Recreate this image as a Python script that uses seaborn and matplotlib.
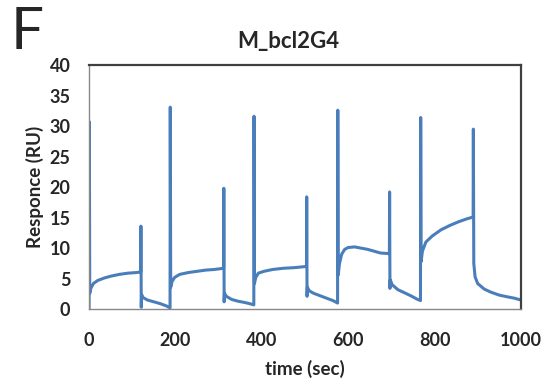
import numpy as np
import pandas as pd
import matplotlib.pyplot as plt
import seaborn as sns

# --- 数据 (读自图片) ---
time_sec = [0, 0.5, 1.5, 4, 10, 20, 35, 50, 70, 90, 110, 119.5,
            120, 120.8, 121.5, 125, 135, 150, 165, 180, 187.5,
            188, 189, 192, 198, 210, 230, 250, 270, 290, 311.5,
            312, 312.8, 313.5, 318, 330, 345, 360, 372, 381.5,
            382, 383, 386, 392, 405, 425, 450, 475, 503.5,
            504, 504.8, 505.5, 510, 520, 535, 550, 565, 575.5,
            576, 577, 580, 585, 592, 600, 615, 630, 645, 660, 675, 695.5,
            696, 696.8, 697.5, 702, 715, 730, 745, 758, 767.5,
            768, 769, 772, 780, 795, 815, 835, 855, 875, 889.5,
            890, 891, 894, 900, 915, 930, 950, 970, 985, 1000]
response_ru = [0.0, 30.7, 2.6, 3.4, 4.2, 4.7, 5.1, 5.4, 5.7, 5.9, 6.0, 6.1,
               13.6, 0.3, 2.4, 1.9, 1.5, 1.2, 0.9, 0.5, 0.2,
               33.1, 3.6, 4.5, 5.2, 5.7, 6.0, 6.2, 6.4, 6.5, 6.7,
               19.8, 1.2, 2.6, 2.1, 1.6, 1.3, 1.1, 0.9, 0.7,
               31.6, 4.2, 5.2, 5.9, 6.2, 6.5, 6.7, 6.8, 7.0,
               18.4, 2.1, 3.6, 3.0, 2.6, 2.2, 1.8, 1.4, 1.0,
               32.6, 5.6, 7.5, 9.0, 9.8, 10.1, 10.2, 10.0, 9.8, 9.5, 9.2, 9.1,
               19.2, 3.4, 4.8, 4.0, 3.2, 2.7, 2.2, 1.7, 1.4,
               31.4, 7.8, 9.5, 11.0, 12.0, 13.0, 13.7, 14.3, 14.8, 15.1,
               29.5, 7.5, 5.3, 4.2, 3.3, 2.8, 2.3, 2.0, 1.8, 1.5]
x_ticks = [0, 200, 400, 600, 800, 1000]
y_ticks = [0, 5, 10, 15, 20, 25, 30, 35, 40]

sns.set_style('white')
plt.rcParams['font.family'] = ['Lato', 'DejaVu Sans']

df = pd.DataFrame({'time': time_sec, 'resp': response_ru})

fig = plt.figure(figsize=(5.5, 3.85), dpi=100)
ax = fig.add_axes([0.162, 0.197, 0.785, 0.634])
sns.lineplot(data=df, x='time', y='resp', ax=ax, estimator=None, sort=False,
             color='#4a7ebb', linewidth=2.2)

ax.set_xlim(0, 1000)
ax.set_ylim(0, 40)
ax.set_xticks(x_ticks)
ax.set_yticks(y_ticks)
ax.tick_params(axis='both', direction='out', length=4.5, width=1, color='#888888',
               labelsize=13)
ax.tick_params(axis='x', pad=12)
ax.tick_params(axis='y', pad=9)
for lab in ax.get_xticklabels() + ax.get_yticklabels():
    lab.set_fontweight('bold')

for side in ['left', 'bottom']:
    ax.spines[side].set_color('#888888')
    ax.spines[side].set_linewidth(1.0)
for side in ['top', 'right']:
    ax.spines[side].set_color('#404040')
    ax.spines[side].set_linewidth(1.6)

ax.set_xlabel('time (sec)', fontsize=13.5, fontweight='bold', labelpad=8)
ax.set_ylabel('Responce (RU)', fontsize=13.5, fontweight='bold', labelpad=4)
fig.text(0.524, 0.892, 'M_bcl2G4', fontsize=16, fontweight='bold',
         ha='center', va='center')

fig.text(0.02, 0.985, 'F', fontsize=42, va='top', ha='left')

fig.savefig('out.png', dpi=100)
